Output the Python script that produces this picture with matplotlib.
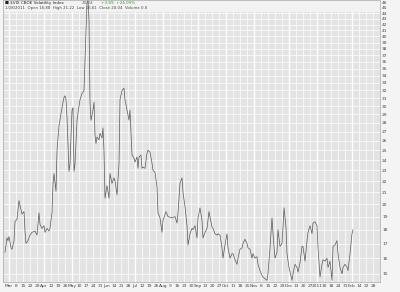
import matplotlib
matplotlib.use('Agg')
from matplotlib import pyplot as plt
from matplotlib.patches import Rectangle

# day number (0 = Mon Mar 1 2010)
days = [-4, -2, -1, 0, 2, 3, 5, 6, 8, 10,
        11, 13, 15, 16, 17, 19, 21, 23, 26, 28,
        30, 31, 33, 35, 36, 38, 40, 41, 43, 44,
        45, 47, 48, 50, 53, 55, 56, 57, 58, 60,
        61, 63, 64, 65, 66, 68, 71, 73, 75, 76,
        77, 78, 79, 80, 81, 82, 84, 85, 86, 87,
        88, 90, 91, 93, 94, 95, 96, 98, 100, 101,
        103, 105, 106, 108, 110, 111, 113, 115, 116, 118,
        120, 121, 122, 123, 125, 126, 128, 129, 130, 132,
        133, 134, 136, 138, 139, 141, 143, 144, 146, 148,
        149, 151, 153, 154, 157, 159, 163, 166, 168, 169,
        171, 173, 174, 176, 178, 179, 181, 183, 184, 186,
        188, 189, 191, 193, 194, 196, 198, 200, 203, 204,
        206, 208, 209, 211, 213, 214, 216, 218, 219, 221,
        223, 224, 226, 228, 229, 231, 233, 234, 236, 238,
        239, 241, 243, 244, 246, 248, 249, 251, 253, 254,
        258, 259, 261, 263, 264, 266, 268, 269, 271, 273,
        274, 275, 277, 278, 280, 283, 284, 286, 288, 289,
        291, 293, 294, 296, 298, 299, 301, 303, 304, 306,
        308, 309, 311, 313, 314, 316, 318, 319, 321, 323,
        324, 326, 328, 329, 331, 333, 334, 336, 338, 339,
        341, 343, 344]
vix = [16.4, 17.4, 17.2, 17.5, 16.7, 16.6, 17.2, 18.6, 18.8, 20.3,
       19.9, 19.2, 19.4, 17.9, 17.0, 17.2, 17.6, 17.8, 17.9, 17.6,
       19.3, 18.4, 18.1, 18.3, 17.8, 18.1, 17.9, 18.1, 19.3, 21.8,
       22.7, 21.1, 24.9, 27.7, 29.8, 31.1, 31.3, 30.8, 28.6, 22.9,
       23.6, 29.5, 29.8, 22.9, 23.6, 28.3, 30.8, 31.6, 32.0, 36.2,
       41.5, 46.0, 46.5, 42.8, 30.4, 28.3, 29.5, 30.5, 26.6, 25.7,
       26.4, 26.1, 26.8, 26.3, 27.4, 24.9, 20.5, 21.6, 20.5, 22.7,
       21.8, 22.3, 22.0, 20.8, 23.6, 30.8, 32.0, 32.3, 30.8, 29.5,
       28.3, 29.5, 26.9, 24.5, 24.2, 23.8, 24.3, 23.2, 24.3, 24.5,
       23.2, 23.3, 23.2, 24.7, 25.0, 24.8, 23.7, 23.0, 22.8, 21.5,
       19.3, 18.9, 17.8, 18.7, 19.4, 19.0, 18.9, 19.0, 18.5, 19.3,
       21.8, 22.3, 21.0, 19.8, 18.3, 16.9, 17.7, 18.1, 18.0, 18.3,
       17.4, 18.9, 19.7, 18.7, 17.4, 17.8, 18.1, 19.4, 18.2, 18.1,
       17.7, 17.6, 17.7, 17.6, 16.7, 16.0, 16.9, 17.7, 16.7, 16.0,
       16.3, 16.3, 15.9, 15.6, 16.0, 16.6, 16.7, 17.0, 17.3, 17.0,
       16.7, 16.6, 16.0, 16.3, 16.0, 16.1, 15.6, 15.2, 14.9, 14.8,
       14.6, 15.0, 16.7, 18.9, 17.7, 16.0, 16.4, 18.0, 16.8, 17.0,
       18.2, 19.7, 18.2, 16.3, 15.4, 14.6, 15.0, 15.6, 15.4, 15.1,
       15.7, 16.8, 16.8, 15.8, 17.2, 17.8, 18.3, 17.7, 18.5, 18.6,
       18.3, 16.7, 14.8, 15.6, 15.9, 15.8, 16.0, 15.4, 15.8, 14.6,
       16.8, 16.9, 17.2, 16.3, 15.4, 15.0, 15.4, 15.6, 15.4, 15.2,
       16.3, 17.7, 18.0]

# weekly ticks, day numbers from Mar 1 2010
week_days = [0, 7, 14, 21, 28, 35, 42, 49, 56, 63, 70, 77, 84, 91, 98, 105, 112,
             119, 126, 133, 140, 147, 154, 161, 168, 175, 182, 189, 196, 203, 210,
             217, 224, 231, 238, 245, 252, 259, 266, 273, 280, 287, 294, 301, 308,
             315, 322, 329, 336, 343, 350, 357, 364]
week_labels = ['Mar', '8', '15', '22', '29', 'Apr', '12', '19', '26', 'May', '10',
               '17', '24', '31', 'Jun', '14', '21', '28', 'Jul', '12', '19', '26',
               'Aug', '9', '16', '23', '30', 'Sep', '13', '20', '27', 'Oct', '11',
               '18', '25', 'Nov', '8', '15', '22', '29', 'Dec', '13', '20', '27',
               '2011', '10', '18', '24', '31', 'Feb', '14', '22', '28']
month_days = [0, 35, 63, 98, 126, 154, 189, 217, 245, 280, 308, 343]
y_ticks = list(range(15, 47))

plt.rcParams['font.family'] = ['DejaVu Sans']
fig = plt.figure(figsize=(4.0, 2.92), dpi=100, facecolor='#f4f4f4')
ax = fig.add_axes([3 / 400, 10 / 292, 377 / 400, 282 / 292])
ax.set_facecolor('#e3e3e3')
ax.set_yscale('log')
ax.set_xlim(-6, 371)
ax.set_ylim(14.5, 46.5)

for d in week_days:
    ax.axvline(d, color='white', lw=0.5, zorder=0.5)
for d in month_days:
    ax.axvline(d, color='white', lw=1.0, zorder=0.5)
for v in y_ticks:
    ax.axhline(v, color='white', lw=0.5, zorder=0.5)

ax.add_patch(Rectangle((0, 1 - 12 / 282), 1, 12 / 282, transform=ax.transAxes,
                       facecolor='#f2f2f2', edgecolor='none', zorder=1))
ax.plot(days, vix, color='#585858', lw=0.5, zorder=2)

ax.yaxis.tick_right()
ax.set_yticks(y_ticks)
ax.set_yticklabels([str(v) for v in y_ticks], fontsize=3.2, color='#444444')
ax.yaxis.set_minor_locator(matplotlib.ticker.NullLocator())
ax.set_xticks(week_days)
ax.set_xticklabels(week_labels, fontsize=3.2, color='#444444')
ax.tick_params(length=0, pad=1.5)
for s in ax.spines.values():
    s.set_color('#aaaaaa')
    s.set_linewidth(0.5)

ax.text(0.004, 0.997, '\u25a0 $VIX CBOE Volatility Index', transform=ax.transAxes,
        fontsize=3.0, va='top', ha='left', color='#222222', zorder=3)
ax.text(0.21, 0.997, '20.04', transform=ax.transAxes,
        fontsize=3.0, va='top', ha='left', color='#666666', zorder=3)
ax.text(0.26, 0.997, '+3.89  +24.09%', transform=ax.transAxes,
        fontsize=3.0, va='top', ha='left', color='#22aa22', zorder=3)
ax.text(0.004, 0.977, '1/28/2011  Open 16.88  High 21.22  Low 16.61  Close 20.04  Volume 0.0',
        transform=ax.transAxes, fontsize=2.8, va='top', ha='left', color='#444444', zorder=3)

fig.savefig('out.png', dpi=100, facecolor=fig.get_facecolor())
